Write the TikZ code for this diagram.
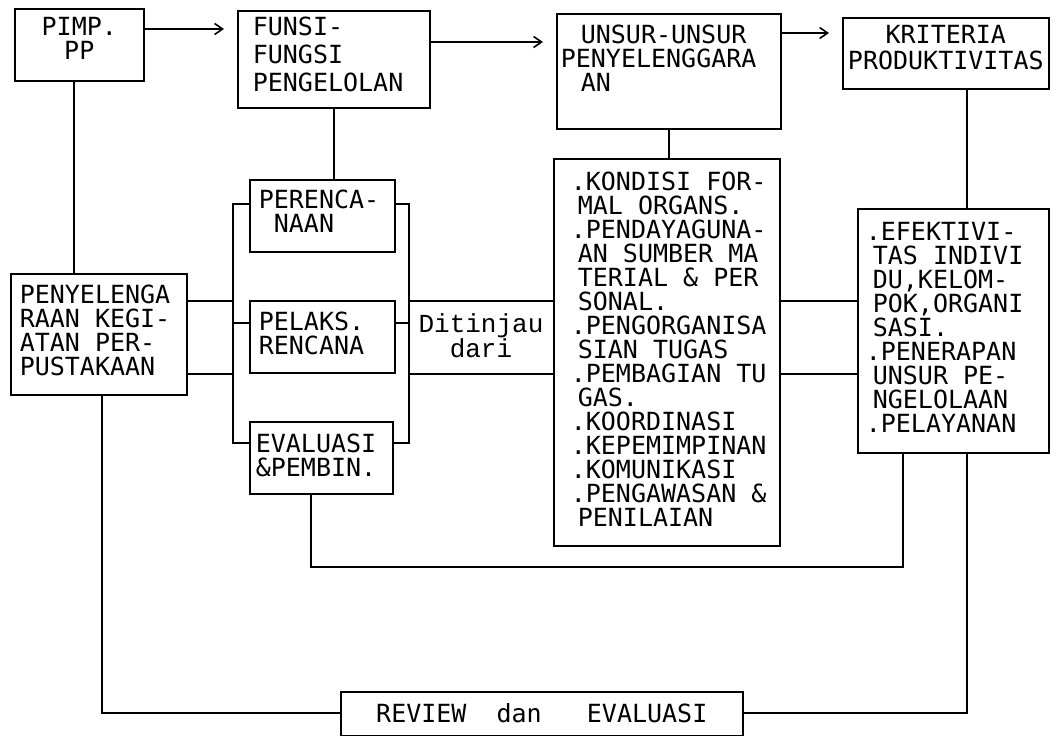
\documentclass[tikz,border=0pt]{standalone}
\usepackage{fontspec}
\newfontfamily\dotfont{DejaVu Sans Mono}
\newfontfamily\typefont{Liberation Mono}
\usetikzlibrary{arrows.meta}
\newcommand{\ind}{\hspace*{7pt}}

\begin{document}
\begin{tikzpicture}[x=1pt, y=-1pt, line width=1.6pt,
   box/.style={draw, anchor=north west, inner sep=0pt},
   txt/.style={anchor=north west, align=left, inner sep=0pt, font=\dotfont\fontsize{25pt}{24pt}\selectfont},
   ctxt/.style={txt, anchor=north, align=center},
   arr/.style={-{Straight Barb[length=8pt,width=11pt]}, shorten >=13pt}]
  \useasboundingbox (0,0) rectangle (1061,736);

  % boxes
  \node[box, minimum width=129pt, minimum height=72pt]  (pimp)   at (14,8)    {};
  \node[box, minimum width=192pt, minimum height=97pt]  (funsi)  at (237,10)  {};
  \node[box, minimum width=224pt, minimum height=115pt] (unsur)  at (556,13)  {};
  \node[box, minimum width=206pt, minimum height=71pt]  (krit)   at (842,17)  {};
  \node[box, minimum width=145pt, minimum height=72pt]  (renc)   at (249,179) {};
  \node[box, minimum width=145pt, minimum height=72pt]  (pelaks) at (249,300) {};
  \node[box, minimum width=143pt, minimum height=72pt]  (eval)   at (249,421) {};
  \node[box, minimum width=176pt, minimum height=121pt] (peny)   at (10,273)  {};
  \node[box, minimum width=226pt, minimum height=387pt] (list)   at (553,158) {};
  \node[box, minimum width=191pt, minimum height=244pt] (rlist)  at (857,208) {};
  \node[box, minimum width=402pt, minimum height=44pt]  (review) at (340,691) {};

  % texts
  \node[ctxt] (pimp-t) at ([shift={(0,8)}]pimp.north) {PIMP.\\PP};
  \node[txt, font=\dotfont\fontsize{25pt}{28pt}\selectfont] (funsi-t) at ([shift={(15,6)}]funsi.north west)
     {FUNSI-\\FUNGSI\\PENGELOLAN};
  \node[txt] (unsur-t) at ([shift={(4,11)}]unsur.north west)
     {\hspace*{20pt}UNSUR-UNSUR\\PENYELENGGARA\\\hspace*{20pt}AN};
  \node[ctxt, font=\dotfont\fontsize{25pt}{26pt}\selectfont] (krit-t) at ([shift={(0,7)}]krit.north)
     {KRITERIA\\PRODUKTIVITAS};
  \node[txt] (renc-t)   at ([shift={(9,10)}]renc.north west)   {PERENCA-\\~NAAN};
  \node[txt] (pelaks-t) at ([shift={(9,11)}]pelaks.north west) {PELAKS.\\RENCANA};
  \node[txt] (eval-t)   at ([shift={(6,12)}]eval.north west)   {EVALUASI\\\&PEMBIN.};
  \node[txt] (peny-t)   at ([shift={(9,11)}]peny.north west)
     {PENYELENGA\\RAAN KEGI-\\ATAN PER-\\PUSTAKAAN};
  \node[txt] (list-t)   at ([shift={(17,13)}]list.north west)
     {.KONDISI FOR-\\\ind MAL ORGANS.\\.PENDAYAGUNA-\\\ind AN SUMBER MA\\\ind TERIAL \& PER\\\ind SONAL.\\
      .PENGORGANISA\\\ind SIAN TUGAS\\.PEMBAGIAN TU\\\ind GAS.\\.KOORDINASI\\.KEPEMIMPINAN\\
      .KOMUNIKASI\\.PENGAWASAN \&\\\ind PENILAIAN};
  \node[txt] (rlist-t)  at ([shift={(8,13)}]rlist.north west)
     {.EFEKTIVI-\\\ind TAS INDIVI\\\ind DU,KELOM-\\\ind POK,ORGANI\\\ind SASI.\\
      .PENERAPAN\\\ind UNSUR PE-\\\ind NGELOLAAN\\.PELAYANAN};
  \node[ctxt] (review-t) at ([shift={(0,12)}]review.north) {REVIEW~~dan~~~EVALUASI};
  \node[anchor=north, align=center, inner sep=0pt, font=\typefont\fontsize{26pt}{22pt}\selectfont]
     (ditinjau) at (481,313) {Ditinjau\\dari};

  % levels and verticals
  \coordinate (a1) at (0,29);
  \coordinate (a2) at (0,42);
  \coordinate (a3) at (0,33);
  \coordinate (vA) at (74,0);
  \coordinate (vK) at (967,0);
  \coordinate (lbr) at (233,0);
  \coordinate (rbr) at (409,0);
  \coordinate (tk1) at (0,204);
  \coordinate (tk2) at (0,323);
  \coordinate (tk3) at (0,443);
  \coordinate (lvA) at (0,301);
  \coordinate (lvB) at (0,374);
  \coordinate (inL) at (311,567);
  \coordinate (inR) at (903,567);
  \coordinate (outL) at (102,713);
  \coordinate (outR) at (967,713);

  % arrows along the top
  \draw[arr] (pimp.east |- a1) -- (funsi.west |- a1);
  \draw[arr] (funsi.east |- a2) -- (unsur.west |- a2);
  \draw[arr] (unsur.east |- a3) -- (krit.west |- a3);

  \draw (vA |- pimp.south) -- (vA |- peny.north);
  \draw (funsi.south) -- (funsi.south |- renc.north);
  \draw (unsur.south) -- (unsur.south |- list.north);
  \draw (vK |- krit.south) -- (vK |- rlist.north);

  % brackets
  \draw (renc.west |- tk1) -| (lbr |- tk3) -- (eval.west |- tk3);
  \draw (pelaks.west |- tk2) -- (lbr |- tk2);
  \draw (renc.east |- tk1) -| (rbr |- tk3) -- (eval.east |- tk3);
  \draw (pelaks.east |- tk2) -- (rbr |- tk2);

  \draw (peny.east |- lvA) -- (lbr |- lvA);
  \draw (peny.east |- lvB) -- (lbr |- lvB);
  \draw (rbr |- lvA) -- (list.west |- lvA);
  \draw (rbr |- lvB) -- (list.west |- lvB);
  \draw (list.east |- lvA) -- (rlist.west |- lvA);
  \draw (list.east |- lvB) -- (rlist.west |- lvB);

  % feedback
  \draw (inL |- eval.south) -- (inL) -- (inR) -- (inR |- rlist.south);
  \draw (outL |- peny.south) -- (outL) -- (review.west |- outL);
  \draw (review.east |- outR) -- (outR) -- (outR |- rlist.south);
\end{tikzpicture}
\end{document}
